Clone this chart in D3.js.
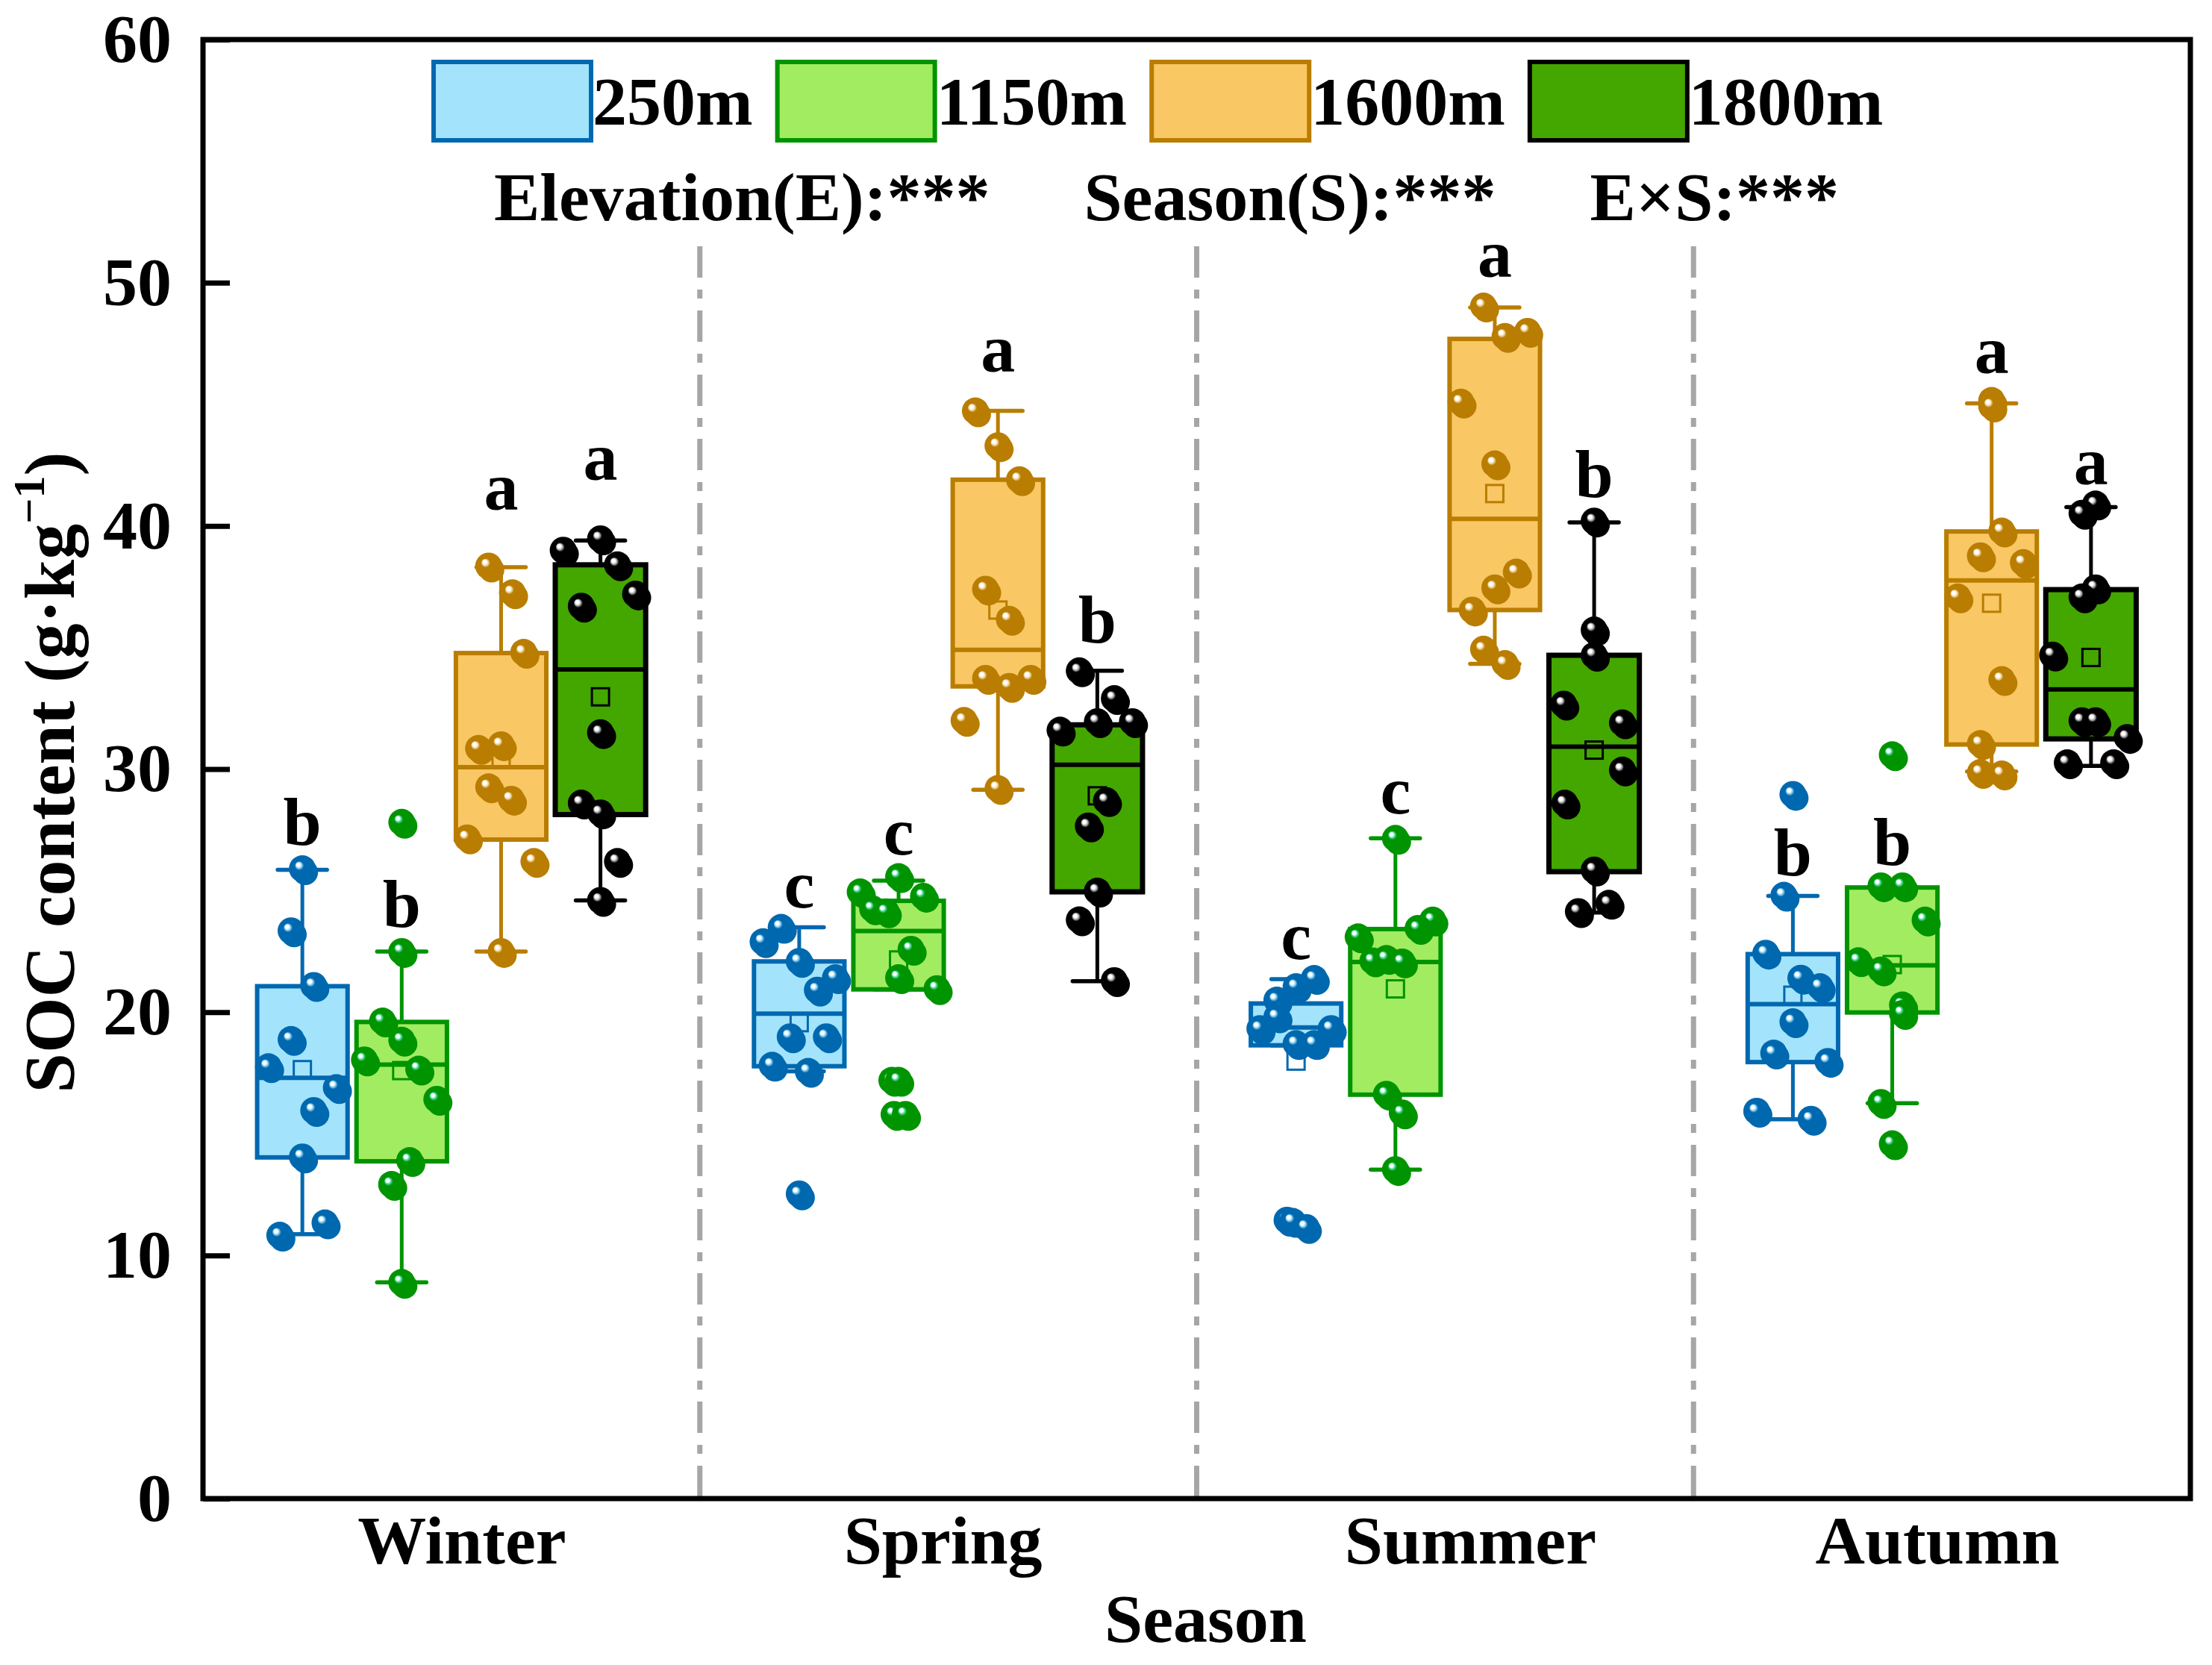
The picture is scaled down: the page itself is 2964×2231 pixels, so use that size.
<!DOCTYPE html>
<html><head><meta charset="utf-8">
<script src="https://cdn.jsdelivr.net/npm/d3@7"></script>
<style>
html,body{margin:0;padding:0;background:#fff;}
svg{display:block;}
text{font-family:"Liberation Serif","Times New Roman",serif;font-weight:bold;fill:#000;}
</style></head>
<body>
<script>
// ---------------- DATA ----------------
const seasons = ["Winter", "Spring", "Summer", "Autumn"];
const elevations = ["250m", "1150m", "1600m", "1800m"];
const yTickValues = [0, 10, 20, 30, 40, 50, 60];
const anovaLabels = ["Elevation(E):***", "Season(S):***", "E×S:***"];

// box statistics, [season][elevation]
const whiskerLow = [
  [10.87, 8.89, 22.5, 24.6],
  [17.57, 20.94, 29.15, 21.28],
  [18.64, 13.53, 34.33, 24.1],
  [15.6, 16.26, 29.9, 30.13]];
const quartile1 = [
  [14.03, 13.87, 27.1, 28.13],
  [17.78, 20.94, 33.4, 24.95],
  [18.64, 16.61, 36.54, 25.78],
  [17.95, 19.99, 31.01, 31.24]];
const medians = [
  [17.3, 17.85, 30.08, 34.1],
  [19.94, 23.34, 34.9, 30.18],
  [19.37, 22.07, 40.29, 30.92],
  [20.33, 21.93, 37.76, 33.28]];
const quartile3 = [
  [21.07, 19.6, 34.77, 38.4],
  [22.09, 24.58, 41.9, 31.82],
  [20.36, 23.42, 47.69, 34.68],
  [22.39, 25.13, 39.77, 37.38]];
const whiskerHigh = [
  [25.86, 22.5, 38.3, 39.4],
  [23.49, 25.41, 44.73, 34.04],
  [21.36, 27.15, 48.98, 40.14],
  [24.78, 25.13, 45.04, 40.77]];
const means = [
  [17.64, 17.6, 30.4, 32.97],
  [19.57, 22.15, 36.54, 28.9],
  [17.99, 20.96, 41.33, 30.78],
  [20.7, 21.96, 36.82, 34.59]];
const letters = [
  ["b", "b", "a", "a"],
  ["c", "c", "a", "b"],
  ["c", "c", "a", "b"],
  ["b", "b", "a", "a"]];
const letterValues = [
  [26.9, 23.5, 40.67, 41.9],
  [24.3, 26.5, 46.35, 35.2],
  [22.2, 28.18, 50.24, 41.2],
  [25.63, 26.07, 46.29, 41.71]];

// individual samples, [season][i], with horizontal spread index
const soc250m = [
  [25.9, 23.35, 21.1, 18.88, 17.76, 16.9, 15.96, 14.05, 11.34, 10.83],
  [23.49, 22.9, 22.09, 21.42, 20.91, 18.99, 18.99, 17.82, 17.57, 12.53],
  [21.39, 21.05, 20.5, 19.81, 19.33, 19.33, 18.71, 18.71, 11.45, 11.4, 11.15],
  [28.96, 24.81, 22.43, 21.4, 21.05, 19.61, 18.32, 17.98, 15.93, 15.6]];
const spread250m = [
  [0, -1, 1, -1, -3, 3, 1, 0, 2, -2],
  [-1.6, -3.2, 0, 3.2, 1.6, -0.8, 2.4, -2.4, 0.8, 0],
  [1.6, 0, -1.7, -1.7, -3.2, 3.1, 0, 1.6, -0.8, -0.3, 0.9],
  [0, -0.8, -2.4, 0.7, 2.4, 0, -1.7, 3.1, -3.2, 1.6]];
const soc1150m = [
  [27.81, 22.5, 19.64, 18.85, 18.04, 17.66, 16.42, 13.9, 12.92, 8.89],
  [25.58, 24.95, 24.77, 24.25, 24.13, 22.59, 21.42, 20.97, 17.2, 17.2, 15.8, 15.8],
  [27.15, 23.79, 23.45, 23.1, 22.11, 22.21, 22.07, 16.63, 15.86, 13.53],
  [30.59, 25.2, 25.2, 23.79, 22.12, 21.74, 20.3, 19.95, 16.29, 14.59]];
const spread1150m = [
  [0, 0, -1.7, 0, -3.3, 1.5, 3.1, 0.7, -0.9, 0],
  [0, -3.4, 2.2, -2.3, -1.1, 1.1, 0, 3.4, -0.6, 0, -0.4, 0.6],
  [0, 3.3, 2, -3.3, -2, -0.8, 0.6, -0.8, 0.6, 0],
  [0, -1, 0.9, 2.9, -3, -1, 0.9, 0.9, -1, 0]];
const soc1600m = [
  [38.35, 37.25, 34.8, 31.0, 30.85, 29.27, 28.76, 27.17, 26.2, 22.5],
  [44.73, 43.3, 41.9, 37.4, 36.16, 33.73, 33.4, 33.73, 32.0, 29.2],
  [49.04, 48.0, 47.79, 45.09, 42.55, 38.1, 37.45, 36.54, 34.93, 34.34],
  [45.16, 44.93, 39.79, 38.77, 38.49, 37.08, 33.68, 31.05, 29.86, 29.8]];
const spread1600m = [
  [-1.1, 1, 2, 0, -2, -1.1, 0.9, -3, 2.9, 0],
  [-2, 0, 1.9, -1.1, 1, -1.1, 1, 2.9, -3, 0],
  [-1, 2.9, 0.9, -3, 0, 1.9, 0, -2, -1, 0.9],
  [0, 0, 0.9, -1, 2.8, -3, 0.9, -1, -1, 0.9]];
const soc1800m = [
  [39.47, 39.0, 38.4, 37.2, 36.7, 31.5, 28.6, 28.2, 26.2, 24.6],
  [34.04, 32.9, 31.95, 31.95, 31.6, 28.7, 27.66, 24.98, 23.8, 21.3],
  [40.2, 35.72, 34.68, 32.67, 31.9, 29.96, 28.6, 25.85, 24.48, 24.14],
  [40.9, 40.52, 37.45, 37.08, 34.69, 31.99, 31.99, 31.3, 30.26, 30.26]];
const spread1800m = [
  [0, -3.3, 1.5, 3.1, -1.7, 0, -1.7, 0, 1.5, 0],
  [-1.6, 1.5, 0, 3.1, -3.3, 0.8, -0.8, 0, -1.6, 1.5],
  [0, 0, 0, -2.7, 2.5, 2.5, -2.6, 0, 1.3, -1.4],
  [0.4, -0.8, 0.4, -0.8, -3.4, -0.8, 0.4, 3.2, -2.1, 2]];

// ---------------- STYLE ----------------
const boxFill = ["#A3E4FC", "#A2EC62", "#F9C764", "#44A700"];
const boxStroke = ["#0068B0", "#009400", "#B97D00", "#000000"];
const pointColor = ["#0068AE", "#009400", "#B97D02", "#000000"];
const pointRing = ["#86CDF0", "#48D89A", "#F0D6A4", "#A8A8A8"];
const boxStrokeW = [6, 6, 6, 7];
const seasonLabelNudge = [14, -7, 34, -6];

// ---------------- CHART ----------------
const W = 2964, H = 2231;
const plot = {left: 272, right: 2935, top: 53, bottom: 2008};
const FONT = 92;

const svg = d3.select("body").append("svg").attr("width", W).attr("height", H);
svg.append("rect").attr("width", W).attr("height", H).attr("fill", "#fff");

const defs = svg.append("defs");
elevations.forEach((e, i) => {
  const g = defs.append("radialGradient").attr("id", "ball" + i)
    .attr("cx", 0.5).attr("cy", 0.5).attr("r", 0.5).attr("fx", 0.33).attr("fy", 0.33);
  g.append("stop").attr("offset", 0).attr("stop-color", "#fff");
  g.append("stop").attr("offset", 0.13).attr("stop-color", "#fff");
  g.append("stop").attr("offset", 0.23).attr("stop-color", pointRing[i]);
  g.append("stop").attr("offset", 0.34).attr("stop-color", pointColor[i]);
  g.append("stop").attr("offset", 1).attr("stop-color", pointColor[i]);
});

const x = d3.scaleBand().domain(seasons).range([plot.left, plot.right]);
const xe = d3.scaleBand().domain(elevations).range([0, x.bandwidth()])
  .paddingInner(0.09).paddingOuter(0.545);
const y = d3.scaleLinear().domain([0, 60]).range([plot.bottom, plot.top]);
const bw = xe.bandwidth();
const spreadUnit = bw / 8;
const capHalf = 33;

// separators
svg.append("g").selectAll("line").data(seasons.slice(1)).join("line")
  .attr("x1", d => x(d)).attr("x2", d => x(d))
  .attr("y1", y(51.5)).attr("y2", plot.bottom)
  .attr("stroke", "#A6A6A6").attr("stroke-width", 7)
  .attr("stroke-dasharray", "42,16,12,16");

const samples = [soc250m, soc1150m, soc1600m, soc1800m];
const spreads = [spread250m, spread1150m, spread1600m, spread1800m];

const groups = [];
seasons.forEach((s, si) => elevations.forEach((e, ei) => groups.push({si, ei})));

const gBoxes = svg.append("g");
groups.forEach(({si, ei}) => {
  const cx = x(seasons[si]) + xe(elevations[ei]) + bw / 2;
  const g = gBoxes.append("g");
  const col = boxStroke[ei];
  // whiskers
  g.append("line").attr("x1", cx).attr("x2", cx)
    .attr("y1", y(quartile3[si][ei])).attr("y2", y(whiskerHigh[si][ei]))
    .attr("stroke", col).attr("stroke-width", 5);
  g.append("line").attr("x1", cx).attr("x2", cx)
    .attr("y1", y(quartile1[si][ei])).attr("y2", y(whiskerLow[si][ei]))
    .attr("stroke", col).attr("stroke-width", 5);
  [whiskerHigh[si][ei], whiskerLow[si][ei]].forEach(v => {
    g.append("line").attr("x1", cx - capHalf).attr("x2", cx + capHalf)
      .attr("y1", y(v)).attr("y2", y(v))
      .attr("stroke", col).attr("stroke-width", 5.5).attr("stroke-linecap", "round");
  });
  // box
  g.append("rect").attr("x", cx - bw / 2).attr("width", bw)
    .attr("y", y(quartile3[si][ei]))
    .attr("height", y(quartile1[si][ei]) - y(quartile3[si][ei]))
    .attr("fill", boxFill[ei]).attr("stroke", col).attr("stroke-width", boxStrokeW[ei]);
  // median
  g.append("line").attr("x1", cx - bw / 2).attr("x2", cx + bw / 2)
    .attr("y1", y(medians[si][ei])).attr("y2", y(medians[si][ei]))
    .attr("stroke", col).attr("stroke-width", 6);
  // mean
  g.append("rect").attr("x", cx - 11.5).attr("y", y(means[si][ei]) - 11.5)
    .attr("width", 23).attr("height", 23)
    .attr("fill", "none").attr("stroke", col).attr("stroke-width", 3);
  // points (shadowed balls)
  const vals = samples[ei][si], sp = spreads[ei][si];
  const pts = g.selectAll("g.pt").data(vals).join("g").attr("class", "pt")
    .attr("transform", (d, i) => `translate(${cx + sp[i] * spreadUnit},${y(d)})`);
  pts.append("circle").attr("cx", 4).attr("cy", 5).attr("r", 17)
    .attr("fill", pointColor[ei]);
  pts.append("circle").attr("r", 18)
    .attr("fill", "url(#ball" + ei + ")");
  // letter
  g.append("text").attr("x", cx).attr("y", y(letterValues[si][ei]))
    .attr("text-anchor", "middle").attr("font-size", FONT)
    .text(letters[si][ei]);
});

// frame
svg.append("rect").attr("x", plot.left).attr("y", plot.top)
  .attr("width", plot.right - plot.left).attr("height", plot.bottom - plot.top)
  .attr("fill", "none").attr("stroke", "#000").attr("stroke-width", 7);

// y axis
const yAxis = svg.append("g").attr("transform", `translate(${plot.left},0)`)
  .call(d3.axisLeft(y).tickValues(yTickValues).tickSize(-36).tickPadding(42));
yAxis.select(".domain").remove();
yAxis.selectAll(".tick line").attr("stroke", "#000").attr("stroke-width", 7);
yAxis.selectAll(".tick text").attr("font-size", FONT)
  .attr("font-family", "Liberation Serif").attr("font-weight", "bold").attr("fill", "#000");

// x axis
const xAxis = svg.append("g").attr("transform", `translate(0,${plot.bottom})`)
  .call(d3.axisBottom(x).tickSize(0).tickPadding(22));
xAxis.select(".domain").remove();
xAxis.selectAll(".tick text").attr("font-size", FONT)
  .attr("font-family", "Liberation Serif").attr("font-weight", "bold").attr("fill", "#000")
  .attr("dx", (d, i) => seasonLabelNudge[i]);

// axis titles
svg.append("text").attr("x", (plot.left + plot.right) / 2 + 12).attr("y", 2200)
  .attr("text-anchor", "middle").attr("font-size", FONT).text("Season");
const yt = svg.append("text").attr("transform", "translate(99,1035) rotate(-90)")
  .attr("text-anchor", "middle").attr("font-size", 96);
yt.append("tspan").text("SOC content (g·kg");
yt.append("tspan").attr("font-size", 60).attr("dy", -40).text("−1");
yt.append("tspan").attr("dy", 40).text(")");

// legend
let lx = 581;
elevations.forEach((e, i) => {
  svg.append("rect").attr("x", lx).attr("y", 83).attr("width", 211).attr("height", 105)
    .attr("fill", boxFill[i]).attr("stroke", boxStroke[i]).attr("stroke-width", 6);
  const t = svg.append("text").attr("x", lx + 213).attr("y", 167)
    .attr("font-size", FONT).text(e);
  lx = lx + 213 + t.node().getComputedTextLength() + 33;
});

// anova annotation
let ax = 662;
anovaLabels.forEach(s => {
  const t = svg.append("text").attr("x", ax).attr("y", 295).attr("font-size", FONT).text(s);
  ax += t.node().getComputedTextLength() + 126;
});
</script>
</body></html>
